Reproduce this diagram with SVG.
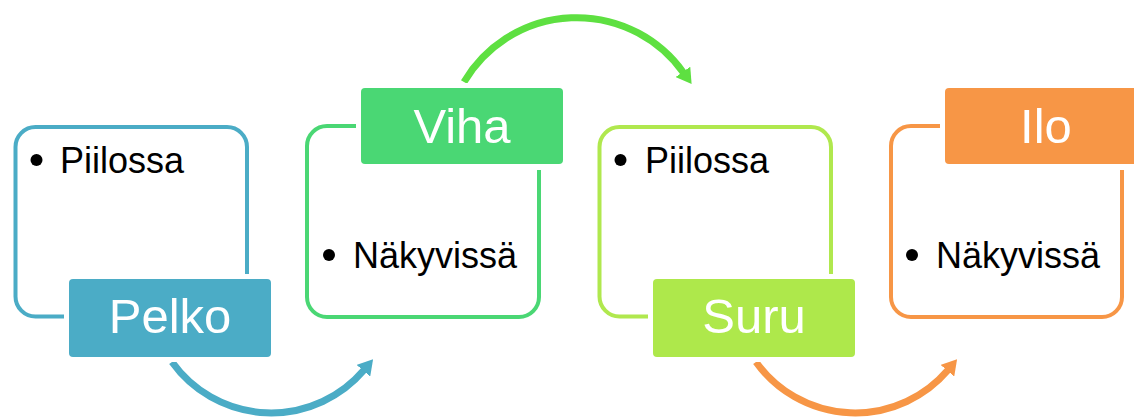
<svg xmlns="http://www.w3.org/2000/svg" width="1134" height="417" viewBox="0 0 1134 417">
<style>
.outline{fill:none;stroke-width:4}
.gap{fill:#ffffff}
.lbl{font-family:"Liberation Sans",Arial,sans-serif;font-size:49px;fill:#ffffff;text-anchor:middle}
.txt{font-family:"Liberation Sans",Arial,sans-serif;font-size:36px;fill:#000000}
.band{fill:none;stroke-width:7}
</style>
<defs>
<marker id="hBlue" markerUnits="userSpaceOnUse" markerWidth="15" markerHeight="18" viewBox="0 0 15 18" refX="1" refY="9" orient="auto"><path d="M0,0 L15,9 L0,18 Z" fill="#4BACC6"/></marker>
<marker id="hGreen" markerUnits="userSpaceOnUse" markerWidth="15" markerHeight="18" viewBox="0 0 15 18" refX="1" refY="9" orient="auto"><path d="M0,0 L15,9 L0,18 Z" fill="#5EE041"/></marker>
<marker id="hOrange" markerUnits="userSpaceOnUse" markerWidth="15" markerHeight="18" viewBox="0 0 15 18" refX="1" refY="9" orient="auto"><path d="M0,0 L15,9 L0,18 Z" fill="#F79646"/></marker>
</defs>
<rect width="1134" height="417" fill="#ffffff"/>
<g id="connectors">
<path class="band" stroke="#4BACC6" d="M172,362 A122,122 0 0 0 364,370" marker-end="url(#hBlue)"/>
<path class="band" stroke="#5EE041" d="M464,82 A131,131 0 0 1 683.5,72.7" marker-end="url(#hGreen)"/>
<path class="band" stroke="#F79646" d="M756,362 A122,122 0 0 0 948,370" marker-end="url(#hOrange)"/>
</g>
<g id="pelko">
<rect class="outline" x="15.5" y="127" width="231.5" height="189.5" rx="20" stroke="#4BACC6"/>
<rect class="gap" x="64" y="274" width="212" height="88"/>
<rect x="69" y="279" width="202" height="78" rx="4" fill="#4BACC6"/>
<text class="lbl" x="170" y="333">Pelko</text>
<circle cx="36.5" cy="160" r="6" fill="#000"/>
<text class="txt" x="60" y="173">Piilossa</text>
</g>
<g id="viha">
<rect class="outline" x="307" y="126" width="232" height="191" rx="20" stroke="#4AD774"/>
<rect class="gap" x="356" y="83" width="212" height="87"/>
<rect x="361" y="88" width="202" height="76" rx="4" fill="#4AD774"/>
<text class="lbl" x="462" y="143">Viha</text>
<circle cx="329" cy="255" r="6" fill="#000"/>
<text class="txt" x="353" y="268">Näkyvissä</text>
</g>
<g id="suru">
<rect class="outline" x="599.5" y="127" width="231.5" height="189.5" rx="20" stroke="#B0E84E"/>
<rect class="gap" x="648" y="274" width="212" height="88"/>
<rect x="653" y="279" width="202" height="78" rx="4" fill="#AEE84B"/>
<text class="lbl" x="754" y="333">Suru</text>
<circle cx="620.5" cy="160" r="6" fill="#000"/>
<text class="txt" x="645" y="173">Piilossa</text>
</g>
<g id="ilo">
<rect class="outline" x="891" y="126" width="231" height="191" rx="20" stroke="#F79646"/>
<rect class="gap" x="940" y="83" width="212" height="87"/>
<rect x="945" y="88" width="202" height="76" rx="4" fill="#F79646"/>
<text class="lbl" x="1046" y="143">Ilo</text>
<circle cx="912" cy="255" r="6" fill="#000"/>
<text class="txt" x="936" y="268">Näkyvissä</text>
</g>
</svg>
